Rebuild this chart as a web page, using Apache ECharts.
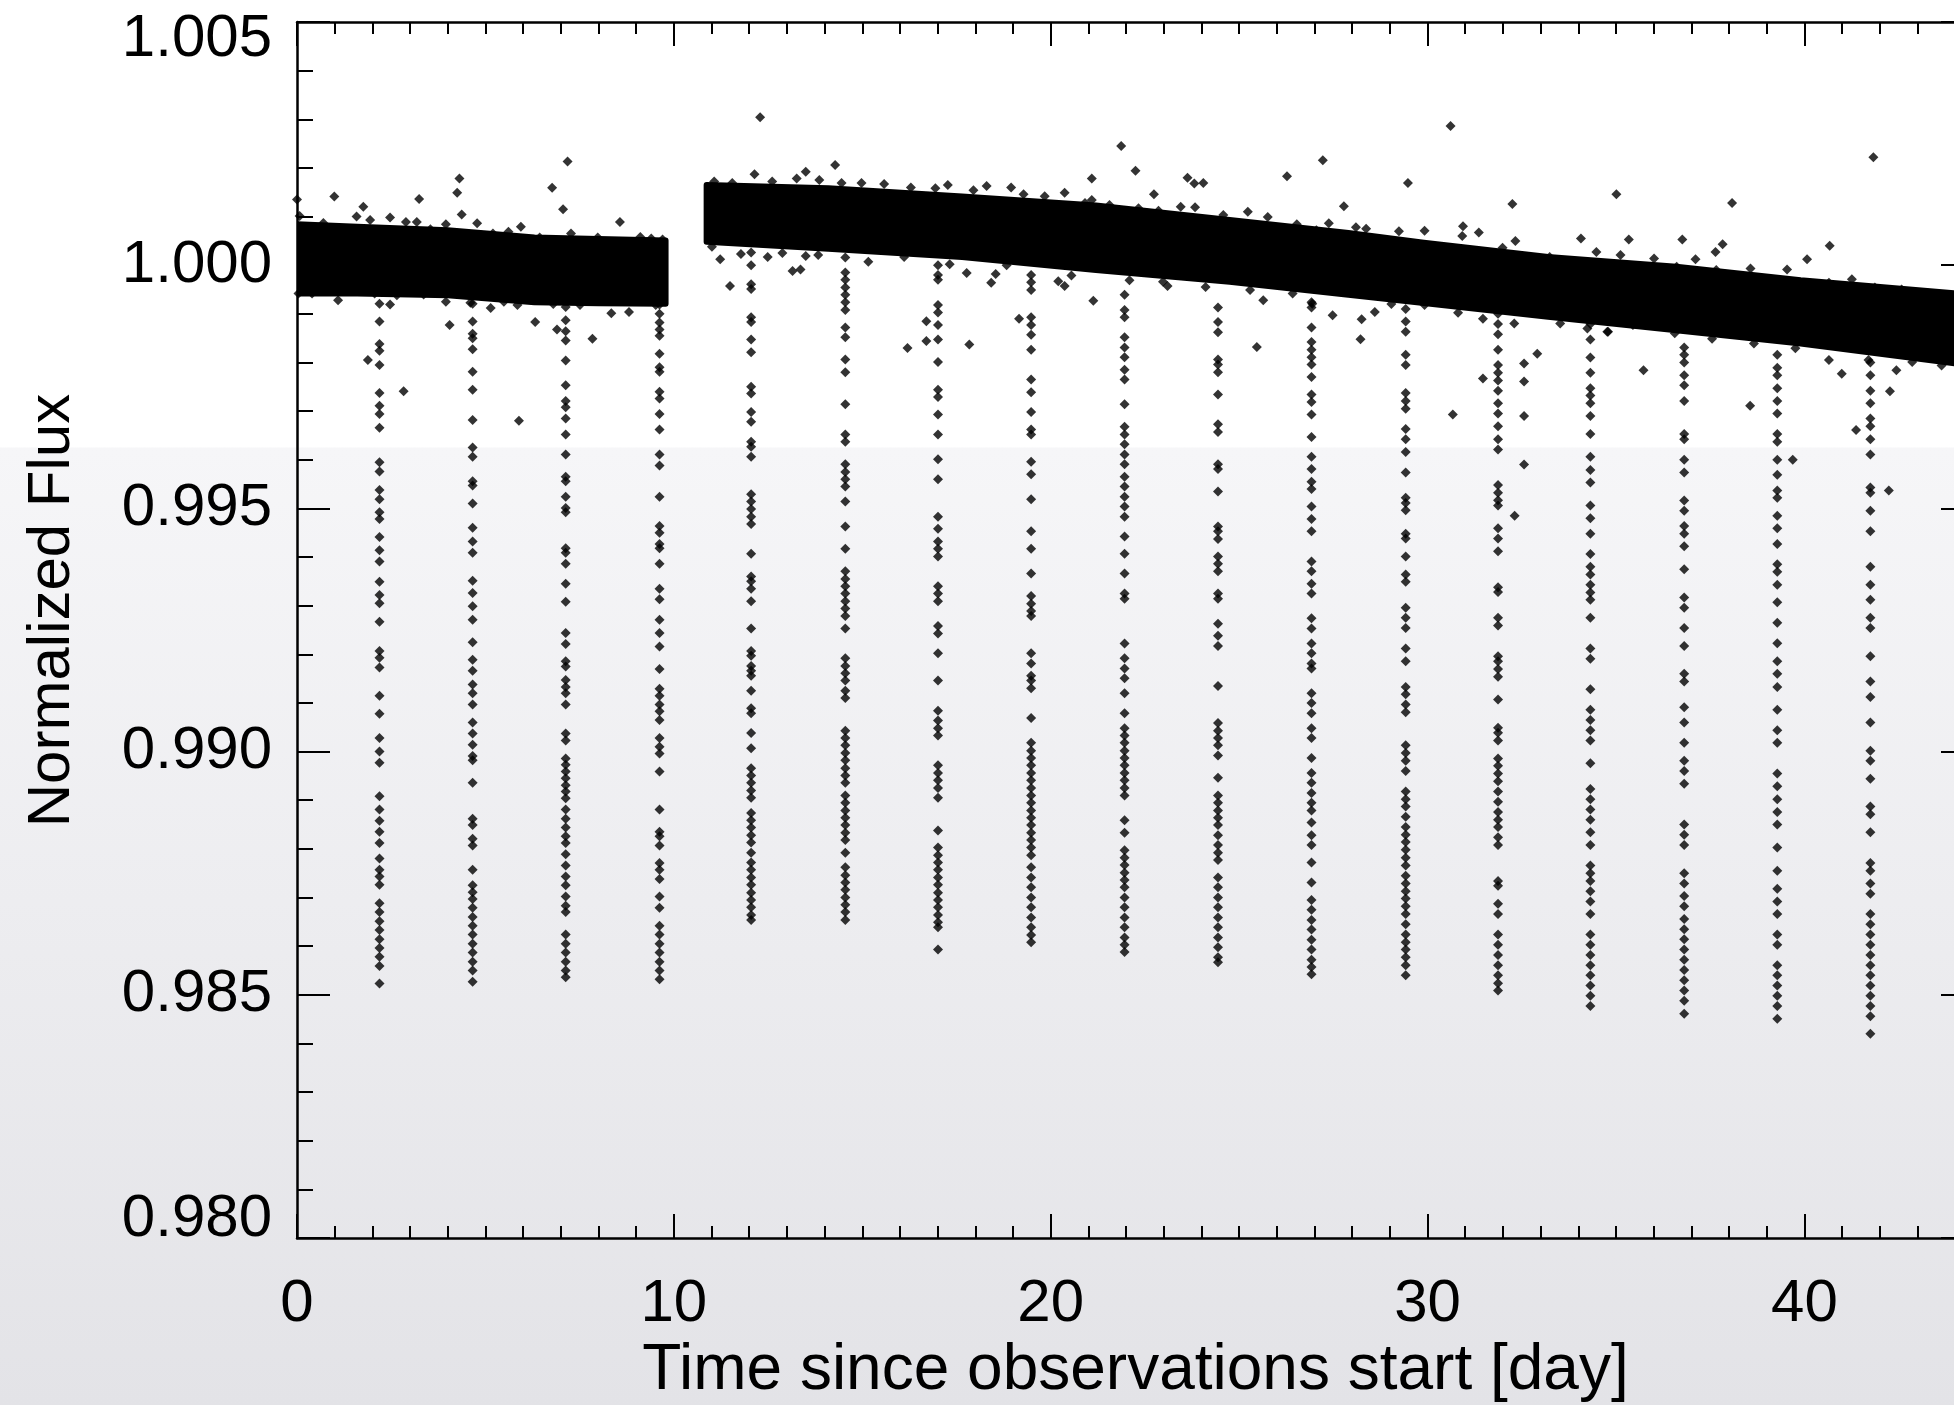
<!DOCTYPE html>
<html>
<head>
<meta charset="utf-8">
<script src="https://cdn.jsdelivr.net/npm/echarts@6/dist/echarts.min.js"></script>
<style>
  html, body { margin: 0; padding: 0; }
  #chart {
    width: 1954px; height: 1405px;
    background: linear-gradient(to bottom, #ffffff 0%, #ffffff 31.8%, #f6f6f8 31.9%, #e3e3e7 100%);
  }
</style>
</head>
<body>
<div id="chart"></div>
<script>
// ---- Light curve data (time in days, normalized flux) ----

// Dense out-of-transit band: upper and lower edges of the point cloud
const bandTime1   = [0.00, 1.60, 4.00, 6.30, 8.00, 9.78];
const bandTop1    = [1.00084, 1.00079, 1.00072, 1.00057, 1.00054, 1.00051];
const bandBottom1 = [0.99942, 0.99942, 0.99938, 0.99924, 0.99922, 0.99921];

const bandTime2   = [10.87, 14.10, 17.65, 21.20, 24.75, 27.90, 29.90, 33.20, 36.60, 39.90, 44.00];
const bandTop2    = [1.00165, 1.00158, 1.00141, 1.00123, 1.00093, 1.00066, 1.00046, 1.00017, 0.99997, 0.99969, 0.99942];
const bandBottom2 = [1.00048, 1.00034, 1.00017, 0.99990, 0.99966, 0.99939, 0.99922, 0.99894, 0.99866, 0.99839, 0.99798];

// Scattered points along the edges of the band
const edgePointsEarly = [
  [0.07,1.00101],[0.70,1.00087],[1.58,1.00100],[1.94,1.00093],[2.47,1.00098],[2.89,1.00089],[3.18,1.00089],
  [3.54,1.00074],[3.95,1.00084],[4.78,1.00086],[5.20,1.00065],[5.61,1.00069],[5.94,1.00079],[6.44,1.00057],
  [7.27,1.00065],[7.98,1.00057],[9.11,1.00058],[9.40,1.00055],[9.70,1.00053],
  [0.04,0.99942],[0.40,0.99942],[1.52,0.99949],[2.06,0.99942],[2.65,0.99938],[3.36,0.99940],[3.95,0.99925],
  [4.60,0.99923],[5.49,0.99925],[5.85,0.99918],[6.80,0.99920],[7.51,0.99918],[8.34,0.99901],[8.81,0.99904],[9.52,0.99918]
];
const edgePointsLate = [
  [11.07,1.00172],[11.55,1.00169],[12.61,1.00172],[13.26,1.00178],[13.86,1.00175],[14.45,1.00169],[14.98,1.00169],
  [15.58,1.00167],[16.29,1.00160],[16.94,1.00158],[17.27,1.00165],[17.95,1.00154],[18.30,1.00163],[18.95,1.00160],
  [19.28,1.00146],[19.84,1.00142],[20.37,1.00149],[20.91,1.00128],[21.09,1.00134],[21.56,1.00124],[22.33,1.00117],
  [22.86,1.00112],[23.45,1.00120],[23.83,1.00119],[24.58,1.00103],[25.76,1.00099],[26.53,1.00084],[27.05,1.00072],
  [27.38,1.00086],[28.10,1.00078],[28.37,1.00075],[29.24,1.00070],[29.92,1.00071],[30.92,1.00060],[31.36,1.00067],
  [31.99,1.00036],[32.33,1.00050],[33.24,1.00017],[34.48,1.00027],[35.12,1.00021],[36.01,1.00014],[36.61,0.99997],
  [37.66,0.99990],[38.57,0.99993],[39.54,0.99991],[40.65,0.99964],[41.26,0.99971],[41.87,0.99954],[42.58,0.99950],[43.30,0.99942],
  [11.01,1.00038],[11.23,1.00012],[11.78,1.00023],[12.49,1.00017],[12.88,1.00025],[13.50,1.00019],[13.83,1.00021],
  [15.16,1.00007],[16.11,1.00017],[17.32,1.00002],[18.54,0.99982],[18.83,1.00000],[20.55,0.99979],[21.20,0.99997],
  [22.09,0.99969],[22.98,0.99966],[24.11,0.99955],[25.29,0.99949],[26.42,0.99942],[26.94,0.99921],[28.60,0.99904],
  [29.04,0.99920],[29.92,0.99918],[30.81,0.99902],[31.47,0.99890],[32.30,0.99880],[33.52,0.99880],[34.24,0.99870],
  [34.79,0.99863],[35.45,0.99877],[36.56,0.99860],[37.55,0.99849],[38.66,0.99839],[39.76,0.99829],[40.65,0.99805],
  [41.70,0.99805],[42.86,0.99801],[43.64,0.99794]
];

// Isolated outliers above and below the band
const strayPointsEarly = [
  [7.18,1.00213],[4.31,1.00178],[4.25,1.00149],[6.77,1.00159],[7.06,1.00115],[0.99,1.00141],[3.24,1.00136],
  [1.76,1.00120],[0.00,1.00135],[8.57,1.00089],[4.37,1.00104],
  [1.09,0.99928],[5.14,0.99912],[4.05,0.99877],[6.32,0.99883],[7.84,0.99849],[2.47,0.99919],[1.88,0.99805],
  [2.83,0.99741],[5.89,0.99680],[6.90,0.99868]
];
const strayPointsLate = [
  [12.29,1.00304],[14.28,1.00206],[21.87,1.00245],[22.25,1.00194],[21.09,1.00178],[22.74,1.00146],[23.63,1.00180],
  [23.81,1.00168],[24.05,1.00169],[26.27,1.00183],[27.22,1.00216],[27.78,1.00121],[25.23,1.00110],[12.14,1.00187],
  [13.50,1.00192],[30.61,1.00286],[29.48,1.00169],[32.25,1.00126],[35.01,1.00146],[38.08,1.00128],[41.83,1.00222],
  [30.94,1.00080],[34.07,1.00055],[35.34,1.00053],[36.76,1.00053],[37.83,1.00043],[37.64,1.00027],[40.67,1.00040],
  [40.07,1.00012],[37.11,1.00012],
  [11.49,0.99957],[13.15,0.99988],[13.36,0.99991],[16.20,0.99830],[16.70,0.99885],[16.70,0.99844],[17.84,0.99837],
  [17.77,0.99984],[18.42,0.99964],[19.16,0.99890],[21.13,0.99927],[25.47,0.99832],[25.64,0.99928],[27.48,0.99897],
  [20.20,0.99967],[20.37,0.99957],[23.10,0.99957],[32.91,0.99818],[32.56,0.99798],[32.56,0.99761],[31.47,0.99767],
  [35.73,0.99784],[40.99,0.99777],[42.44,0.99784],[42.27,0.99741],[34.77,0.99863],[30.67,0.99693],[32.56,0.99690],
  [32.56,0.99590],[32.31,0.99485],[38.56,0.99711],[39.69,0.99600],[41.37,0.99661],[42.24,0.99537],[28.25,0.99889],[28.22,0.99848]
];

// Mid-transit times (days)
const transitTimes = [2.19, 4.66, 7.13, 9.62, 12.05, 14.55, 17.01, 19.48, 21.96, 24.44, 26.92, 29.42, 31.87, 34.32, 36.81, 39.28, 41.75];

// In-transit flux samples, one array per transit
const transitFlux01 = [0.99921,0.99884,0.99838,0.99824,0.99795,0.99737,0.99711,0.99694,0.99666,0.99595,0.99576,0.99538,0.99519,0.99492,0.99478,0.99441,0.99414,0.99391,0.99349,0.99322,0.99305,0.99267,0.99207,0.99193,0.99173,0.99115,0.99078,0.99028,0.99000,0.98977,0.98908,0.98881,0.98858,0.98835,0.98812,0.98780,0.98757,0.98743,0.98726,0.98688,0.98670,0.98651,0.98633,0.98614,0.98596,0.98578,0.98559,0.98523];
const transitFlux02 = [0.99921,0.99884,0.99859,0.99850,0.99827,0.99781,0.99744,0.99682,0.99625,0.99606,0.99556,0.99547,0.99510,0.99460,0.99432,0.99409,0.99351,0.99326,0.99299,0.99271,0.99225,0.99189,0.99166,0.99138,0.99120,0.99097,0.99060,0.99037,0.99014,0.98991,0.98982,0.98936,0.98862,0.98849,0.98821,0.98807,0.98757,0.98725,0.98711,0.98697,0.98679,0.98660,0.98642,0.98624,0.98605,0.98587,0.98568,0.98550,0.98527];
const transitFlux03 = [0.99914,0.99887,0.99864,0.99845,0.99804,0.99753,0.99721,0.99708,0.99685,0.99652,0.99611,0.99565,0.99556,0.99524,0.99501,0.99492,0.99418,0.99409,0.99386,0.99345,0.99308,0.99244,0.99221,0.99186,0.99175,0.99147,0.99133,0.99120,0.99097,0.99037,0.99023,0.98986,0.98973,0.98959,0.98945,0.98931,0.98918,0.98904,0.98881,0.98862,0.98844,0.98826,0.98812,0.98789,0.98766,0.98743,0.98725,0.98702,0.98683,0.98670,0.98624,0.98605,0.98587,0.98568,0.98550,0.98536];
const transitFlux04 = [0.99919,0.99900,0.99882,0.99868,0.99855,0.99818,0.99790,0.99781,0.99740,0.99726,0.99694,0.99662,0.99611,0.99588,0.99524,0.99464,0.99450,0.99427,0.99418,0.99386,0.99335,0.99313,0.99271,0.99244,0.99216,0.99170,0.99129,0.99115,0.99097,0.99083,0.99065,0.99028,0.99010,0.98996,0.98959,0.98881,0.98835,0.98826,0.98807,0.98771,0.98757,0.98738,0.98702,0.98679,0.98642,0.98624,0.98605,0.98587,0.98568,0.98550,0.98532];
const transitFlux05 = [1.00026,1.00000,0.99961,0.99951,0.99893,0.99883,0.99847,0.99821,0.99750,0.99736,0.99698,0.99678,0.99637,0.99627,0.99606,0.99529,0.99514,0.99499,0.99483,0.99468,0.99407,0.99360,0.99350,0.99335,0.99309,0.99253,0.99207,0.99197,0.99176,0.99166,0.99156,0.99125,0.99089,0.99079,0.99038,0.99007,0.98966,0.98951,0.98936,0.98920,0.98905,0.98874,0.98859,0.98844,0.98828,0.98813,0.98792,0.98772,0.98757,0.98741,0.98726,0.98710,0.98695,0.98680,0.98664,0.98654];
const transitFlux06 = [1.00016,0.99985,0.99970,0.99954,0.99939,0.99924,0.99908,0.99872,0.99852,0.99806,0.99780,0.99714,0.99652,0.99637,0.99591,0.99575,0.99560,0.99545,0.99514,0.99463,0.99417,0.99371,0.99355,0.99340,0.99325,0.99309,0.99294,0.99279,0.99253,0.99192,0.99176,0.99161,0.99146,0.99125,0.99110,0.99043,0.99028,0.99013,0.98997,0.98982,0.98966,0.98951,0.98936,0.98910,0.98895,0.98879,0.98864,0.98849,0.98833,0.98818,0.98792,0.98762,0.98746,0.98731,0.98716,0.98700,0.98685,0.98670,0.98654];
const transitFlux07 = [1.00000,0.99980,0.99970,0.99918,0.99903,0.99877,0.99847,0.99801,0.99744,0.99729,0.99693,0.99652,0.99601,0.99560,0.99483,0.99458,0.99432,0.99417,0.99401,0.99340,0.99325,0.99309,0.99258,0.99243,0.99202,0.99146,0.99084,0.99064,0.99048,0.99033,0.98972,0.98956,0.98941,0.98925,0.98905,0.98838,0.98803,0.98787,0.98772,0.98757,0.98741,0.98726,0.98710,0.98695,0.98680,0.98664,0.98649,0.98639,0.98593];
const transitFlux08 = [0.99980,0.99965,0.99949,0.99893,0.99877,0.99857,0.99826,0.99765,0.99739,0.99698,0.99662,0.99652,0.99596,0.99570,0.99519,0.99453,0.99417,0.99366,0.99320,0.99304,0.99289,0.99279,0.99202,0.99181,0.99156,0.99146,0.99130,0.99069,0.99018,0.99002,0.98987,0.98972,0.98956,0.98941,0.98925,0.98910,0.98895,0.98879,0.98864,0.98849,0.98833,0.98818,0.98803,0.98787,0.98762,0.98741,0.98721,0.98700,0.98680,0.98659,0.98639,0.98623,0.98608];
const transitFlux09 = [0.99939,0.99908,0.99893,0.99852,0.99831,0.99811,0.99785,0.99765,0.99714,0.99668,0.99652,0.99632,0.99611,0.99591,0.99565,0.99545,0.99524,0.99504,0.99483,0.99442,0.99407,0.99366,0.99325,0.99314,0.99222,0.99192,0.99171,0.99151,0.99120,0.99079,0.99048,0.99033,0.99018,0.99002,0.98987,0.98972,0.98956,0.98941,0.98925,0.98910,0.98859,0.98833,0.98797,0.98782,0.98767,0.98751,0.98736,0.98721,0.98700,0.98680,0.98659,0.98639,0.98618,0.98603,0.98588];
const transitFlux10 = [0.99913,0.99883,0.99862,0.99806,0.99796,0.99780,0.99734,0.99673,0.99657,0.99591,0.99581,0.99535,0.99463,0.99453,0.99437,0.99401,0.99386,0.99371,0.99325,0.99314,0.99263,0.99238,0.99217,0.99135,0.99059,0.99043,0.99028,0.99013,0.98992,0.98946,0.98910,0.98895,0.98879,0.98864,0.98849,0.98828,0.98808,0.98792,0.98777,0.98741,0.98721,0.98700,0.98680,0.98659,0.98639,0.98618,0.98598,0.98577,0.98567];
const transitFlux11 = [0.99924,0.99913,0.99872,0.99842,0.99826,0.99811,0.99796,0.99770,0.99734,0.99719,0.99693,0.99647,0.99606,0.99581,0.99555,0.99540,0.99504,0.99478,0.99453,0.99391,0.99371,0.99345,0.99325,0.99274,0.99253,0.99222,0.99202,0.99181,0.99171,0.99120,0.99100,0.99079,0.99048,0.99028,0.98987,0.98956,0.98936,0.98915,0.98895,0.98879,0.98854,0.98828,0.98808,0.98772,0.98731,0.98695,0.98675,0.98654,0.98634,0.98613,0.98593,0.98572,0.98557,0.98542];
const transitFlux12 = [0.99910,0.99884,0.99863,0.99816,0.99795,0.99737,0.99721,0.99705,0.99663,0.99642,0.99616,0.99574,0.99522,0.99511,0.99496,0.99448,0.99438,0.99401,0.99364,0.99349,0.99296,0.99275,0.99254,0.99212,0.99186,0.99133,0.99118,0.99097,0.99081,0.99013,0.98997,0.98981,0.98960,0.98918,0.98902,0.98887,0.98866,0.98845,0.98829,0.98814,0.98798,0.98782,0.98766,0.98745,0.98729,0.98713,0.98698,0.98682,0.98666,0.98645,0.98624,0.98608,0.98593,0.98577,0.98561,0.98540];
const transitFlux13 = [0.99900,0.99879,0.99858,0.99826,0.99795,0.99779,0.99763,0.99742,0.99716,0.99695,0.99669,0.99642,0.99621,0.99548,0.99532,0.99517,0.99506,0.99459,0.99438,0.99412,0.99338,0.99328,0.99275,0.99259,0.99196,0.99186,0.99170,0.99154,0.99107,0.99049,0.99039,0.99023,0.98986,0.98971,0.98955,0.98939,0.98918,0.98897,0.98876,0.98860,0.98845,0.98824,0.98808,0.98734,0.98724,0.98687,0.98666,0.98624,0.98603,0.98582,0.98561,0.98540,0.98524,0.98509];
const transitFlux14 = [0.99879,0.99847,0.99810,0.99779,0.99747,0.99732,0.99716,0.99690,0.99653,0.99606,0.99579,0.99553,0.99506,0.99480,0.99448,0.99406,0.99380,0.99364,0.99343,0.99327,0.99312,0.99275,0.99212,0.99191,0.99128,0.99086,0.99065,0.99044,0.99023,0.98976,0.98923,0.98902,0.98881,0.98860,0.98834,0.98808,0.98766,0.98750,0.98734,0.98713,0.98692,0.98666,0.98624,0.98603,0.98582,0.98561,0.98540,0.98519,0.98498,0.98477];
const transitFlux15 = [0.99831,0.99816,0.99800,0.99774,0.99753,0.99721,0.99653,0.99642,0.99600,0.99574,0.99516,0.99495,0.99464,0.99448,0.99422,0.99375,0.99317,0.99296,0.99254,0.99217,0.99160,0.99144,0.99091,0.99060,0.99018,0.98981,0.98960,0.98934,0.98850,0.98829,0.98808,0.98750,0.98729,0.98703,0.98682,0.98656,0.98635,0.98614,0.98593,0.98572,0.98551,0.98530,0.98509,0.98488,0.98461];
const transitFlux16 = [0.99816,0.99789,0.99774,0.99747,0.99721,0.99695,0.99653,0.99637,0.99600,0.99569,0.99537,0.99522,0.99485,0.99459,0.99427,0.99385,0.99370,0.99343,0.99307,0.99265,0.99223,0.99186,0.99160,0.99133,0.99086,0.99044,0.99018,0.98955,0.98929,0.98902,0.98876,0.98850,0.98803,0.98755,0.98718,0.98692,0.98666,0.98624,0.98603,0.98561,0.98540,0.98519,0.98498,0.98477,0.98451];
const transitFlux17 = [0.99800,0.99774,0.99742,0.99716,0.99685,0.99669,0.99642,0.99611,0.99543,0.99532,0.99495,0.99453,0.99380,0.99343,0.99312,0.99275,0.99254,0.99196,0.99144,0.99112,0.99060,0.99002,0.98981,0.98944,0.98887,0.98871,0.98834,0.98771,0.98755,0.98729,0.98708,0.98666,0.98645,0.98624,0.98603,0.98582,0.98561,0.98540,0.98519,0.98498,0.98477,0.98456,0.98420];

const transitFlux = [
  transitFlux01, transitFlux02, transitFlux03, transitFlux04, transitFlux05, transitFlux06,
  transitFlux07, transitFlux08, transitFlux09, transitFlux10, transitFlux11, transitFlux12,
  transitFlux13, transitFlux14, transitFlux15, transitFlux16, transitFlux17
];

// Axis ranges and labels
const timeMin = 0, timeMax = 44.5;
const fluxMin = 0.980, fluxMax = 1.005;
const xTitle = 'Time since observations start [day]';
const yTitle = 'Normalized Flux';

// ---- Chart ----
const FONT = "'Liberation Sans', Arial, Helvetica, sans-serif";
const FS = 60;
const INK = '#000000';

const chart = echarts.init(document.getElementById('chart'), null, { renderer: 'canvas' });

const bandSegments = [
  { time: bandTime1, top: bandTop1, bottom: bandBottom1 },
  { time: bandTime2, top: bandTop2, bottom: bandBottom2 }
];

const transitPoints = [];
transitTimes.forEach(function (t, i) {
  transitFlux[i].forEach(function (f) { transitPoints.push([t, f]); });
});

// plot box; the right spine sits just past the canvas edge
const gridBox = { left: 297, top: 22, width: 1677, height: 1216, containLabel: false, outerBoundsMode: 'none' };
const tickLine = { color: INK, width: 2 };

function xLabel(v) {
  return Math.abs(v % 10) < 1e-9 ? String(v) : '';
}
function yLabel(v) {
  const s = v.toFixed(3);
  if (Math.abs(v - fluxMax) < 1e-9) return '{hi|' + s + '}';
  if (Math.abs(v - fluxMin) < 1e-9) return '{lo|' + s + '}';
  return s;
}
const labelText = { fontSize: FS, fontFamily: FONT, color: INK };

const dot = {
  type: 'scatter', xAxisIndex: 0, yAxisIndex: 0,
  symbol: 'diamond', symbolSize: [10, 10],
  itemStyle: { color: INK },
  silent: true, animation: false, z: 3
};

chart.setOption({
  animation: false,
  backgroundColor: 'transparent',
  grid: [Object.assign({}, gridBox), Object.assign({}, gridBox)],
  xAxis: [
    { // bottom, labelled every 10 days
      gridIndex: 0, type: 'value', position: 'bottom', min: timeMin, max: timeMax, interval: 10,
      axisLine: { show: true, onZero: false, lineStyle: { color: INK, width: 2.5 } },
      axisTick: { show: true, inside: true, length: 24, lineStyle: tickLine },
      splitLine: { show: false },
      axisLabel: Object.assign({ margin: 36, formatter: xLabel }, labelText),
      name: xTitle, nameLocation: 'middle', nameGap: 98,
      nameTextStyle: { fontSize: 64, fontFamily: FONT, color: INK }
    },
    { // top spine, major ticks
      gridIndex: 0, type: 'value', position: 'top', min: timeMin, max: timeMax, interval: 10,
      axisLine: { show: true, onZero: false, lineStyle: { color: INK, width: 2.5 } },
      axisTick: { show: true, inside: true, length: 24, lineStyle: tickLine },
      splitLine: { show: false }, axisLabel: { show: false }
    },
    { // bottom, one tick per day
      gridIndex: 1, type: 'value', position: 'bottom', min: timeMin, max: timeMax, interval: 1,
      axisLine: { show: false, onZero: false },
      axisTick: { show: true, inside: true, length: 12, lineStyle: tickLine },
      splitLine: { show: false }, axisLabel: { show: false }
    },
    { // top, one tick per day
      gridIndex: 1, type: 'value', position: 'top', min: timeMin, max: timeMax, interval: 1,
      axisLine: { show: false, onZero: false },
      axisTick: { show: true, inside: true, length: 12, lineStyle: tickLine },
      splitLine: { show: false }, axisLabel: { show: false }
    }
  ],
  yAxis: [
    {
      gridIndex: 0, type: 'value', position: 'left', min: fluxMin, max: fluxMax, interval: 0.005,
      axisLine: { show: true, onZero: false, lineStyle: { color: INK, width: 2.5 } },
      axisTick: { show: true, inside: true, length: 33, lineStyle: tickLine },
      minorTick: { show: true, splitNumber: 5, length: 16, lineStyle: tickLine },
      splitLine: { show: false }, minorSplitLine: { show: false },
      axisLabel: Object.assign({
        margin: 25, formatter: yLabel,
        rich: {
          hi: Object.assign({ padding: [34, 0, 0, 0] }, labelText),
          lo: Object.assign({ padding: [0, 0, 38, 0] }, labelText)
        }
      }, labelText),
      name: yTitle, nameLocation: 'middle', nameRotate: 90, nameGap: 215,
      nameTextStyle: Object.assign({ padding: [0, 0, 0, 39] }, labelText)
    },
    {
      gridIndex: 0, type: 'value', position: 'right', min: fluxMin, max: fluxMax, interval: 0.005,
      axisLine: { show: true, onZero: false, lineStyle: { color: INK, width: 2.5 } },
      axisTick: { show: true, inside: true, length: 33, lineStyle: tickLine },
      minorTick: { show: true, splitNumber: 5, length: 16, lineStyle: tickLine },
      splitLine: { show: false }, minorSplitLine: { show: false },
      axisLabel: { show: false }
    },
    {
      gridIndex: 1, type: 'value', min: fluxMin, max: fluxMax, show: false
    }
  ],
  series: [
    {
      type: 'custom', xAxisIndex: 0, yAxisIndex: 0, clip: true,
      data: bandSegments.map(function (s) { return [s.time[0], s.top[0]]; }),
      renderItem: function (params, api) {
        const s = bandSegments[params.dataIndex];
        const pts = [];
        for (let i = 0; i < s.time.length; i++) pts.push(api.coord([s.time[i], s.top[i]]));
        for (let i = s.time.length - 1; i >= 0; i--) pts.push(api.coord([s.time[i], s.bottom[i]]));
        return {
          type: 'polygon', shape: { points: pts },
          style: { fill: INK, stroke: INK, lineWidth: 6, lineJoin: 'round' }
        };
      },
      silent: true, animation: false, z: 2
    },
    Object.assign({ data: edgePointsEarly.concat(edgePointsLate) }, dot),
    Object.assign({ data: strayPointsEarly.concat(strayPointsLate) }, dot),
    Object.assign({ data: transitPoints }, dot)
  ]
});
</script>
</body>
</html>
